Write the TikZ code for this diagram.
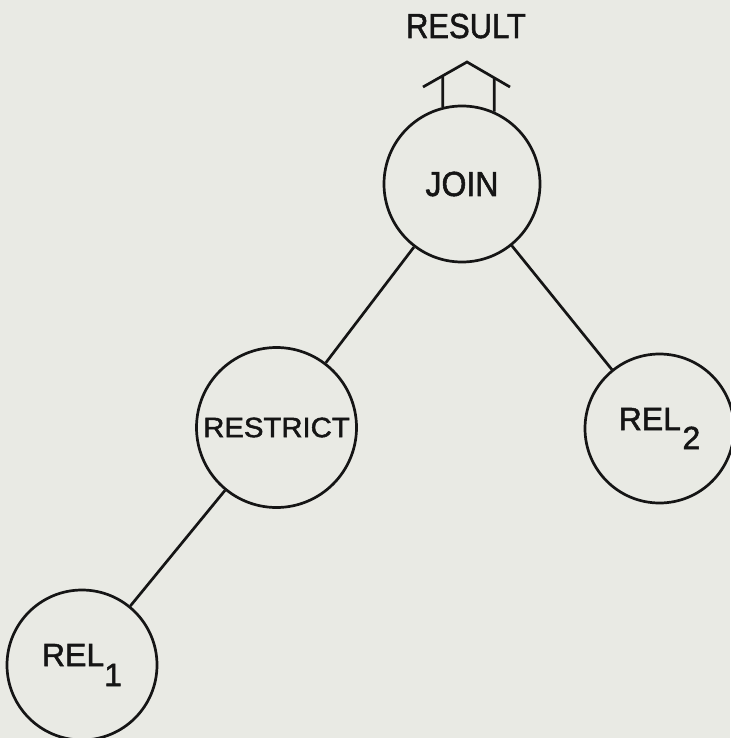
\documentclass[tikz,border=0pt]{standalone}
\usepackage{fontspec}
\setmainfont[FakeBold=1.6]{Liberation Sans}
\definecolor{paper}{HTML}{E9EAE4}
\definecolor{inkc}{HTML}{151515}
\newcommand{\fsbig}{\fontsize{34.8pt}{40pt}\selectfont}
\newcommand{\fsmid}{\fontsize{32pt}{38pt}\selectfont}
\newcommand{\fssmall}{\fontsize{27.9pt}{33pt}\selectfont}
\begin{document}
\begin{tikzpicture}[x=1pt,y=-1pt,
  wire/.style={draw=inkc, line width=2.7pt},
  opnode/.style={circle, draw=inkc, line width=2.7pt, inner sep=0pt, text=inkc},
  caption/.style={inner sep=0pt, text=inkc, font=\fsbig}]
  % sheet
  \fill[paper] (0,0) rectangle (730,738);
  \useasboundingbox (0,0) rectangle (730,738);

  % operator nodes of the query tree
  \node[opnode, minimum size=156pt, font=\fsbig] (join) at (462,184)
       {\scalebox{0.92}[1]{JOIN}};
  \node[opnode, minimum size=160pt, font=\fssmall] (restrict) at (276.5,427.5)
       {\scalebox{1.05}[1]{RESTRICT}};
  \node[opnode, minimum size=149pt, font=\fsmid] (rel2) at (659.5,428.5)
       {REL\hspace{1.5pt}\raisebox{-19pt}{2}};
  \node[opnode, minimum size=150pt, font=\fsmid] (rel1) at (82,665)
       {REL\raisebox{-20pt}{1}};

  % tree edges
  \draw[wire] (join) -- (restrict);
  \draw[wire] (join) -- (rel2);
  \draw[wire] (restrict) -- (rel1);

  % hollow output arrow above JOIN
  \coordinate (shaftL) at (join.104);
  \coordinate (shaftR) at (join.66.6);
  \coordinate (headL) at (423,87);
  \coordinate (apex) at (467,62);
  \coordinate (headR) at (510,87);
  \draw[wire, line join=miter] (headL) -- (apex) -- (headR);
  \draw[wire] (shaftL) -- (intersection of shaftL--{[yshift=10pt]shaftL} and headL--apex);
  \draw[wire] (shaftR) -- (intersection of shaftR--{[yshift=10pt]shaftR} and apex--headR);

  \node[caption, anchor=base] (result) at (466,38) {\scalebox{0.89}[1]{RESULT}};
\end{tikzpicture}
\end{document}
